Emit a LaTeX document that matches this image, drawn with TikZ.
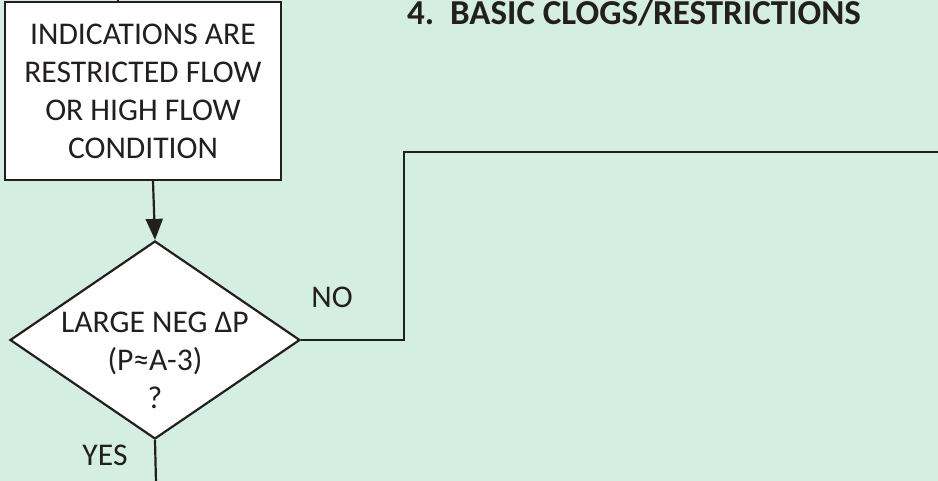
\documentclass[tikz,border=0pt]{standalone}
\usepackage{fontspec}
\setmainfont{Carlito}
\usetikzlibrary{shapes.geometric,arrows.meta}
\definecolor{bg}{HTML}{D4EFE2}
\definecolor{ink}{HTML}{231F20}
\tikzset{
  txt/.style={font=\fontsize{31.6}{38}\selectfont, text=ink, inner sep=0pt, align=center},
  boxstyle/.style={draw=ink, fill=white, line width=2.4pt, minimum width=276pt, minimum height=178pt, inner sep=0pt},
  decstyle/.style={diamond, draw=ink, fill=white, line width=2.2pt, minimum width=290pt, minimum height=198pt, inner sep=0pt},
  conn/.style={draw=ink, line width=2.2pt},
  arr/.style={conn, -{Triangle[length=21pt,width=17pt]}},
}
\begin{document}
\begin{tikzpicture}[x=1pt,y=-1pt]
\fill[bg] (0,0) rectangle (938,481);
\useasboundingbox (0,0) rectangle (938,481);
\node[txt, font=\bfseries\fontsize{35}{40}\selectfont, anchor=base west] (title) at (407,25) {4.\ \ BASIC CLOGS/RESTRICTIONS};
\node[boxstyle, txt] (box) at (143,91) {INDICATIONS ARE\\RESTRICTED FLOW\\OR HIGH FLOW\\CONDITION};
\node[decstyle] (dec) at (155,340) {};
\node[txt] (dectext) at (155,360) {LARGE NEG ΔP\\(P≈A-3)\\?};
\node[txt] (nolbl) at (332,297) {NO};
\node[txt] (yeslbl) at (105,455) {YES};
\coordinate (topin) at (118,-2);
\coordinate (nocorner) at (404,152);
\coordinate (noend) at (940,152);
\coordinate (yesend) at (156,483);
\draw[conn] (topin) -- (topin |- box.north);
\draw[arr] ([xshift=10pt]box.south) -- (dec.north);
\draw[conn] (dec.east) -| (nocorner) -- (noend);
\draw[conn] (dec.south) -- (yesend);
\end{tikzpicture}
\end{document}
